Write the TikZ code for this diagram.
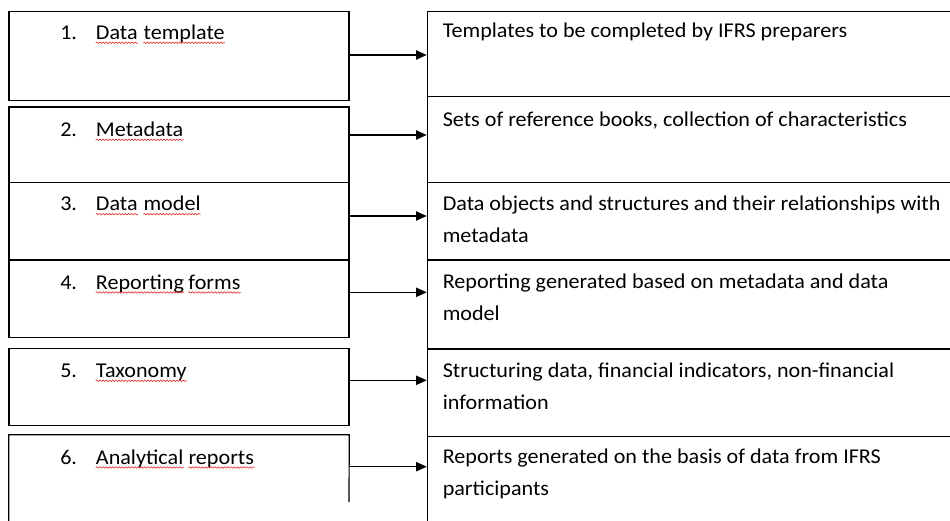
\documentclass[tikz,border=0pt]{standalone}
\usepackage{fontspec}
\setmainfont{Carlito}[FakeStretch=1.05]
\usetikzlibrary{arrows.meta,fit,decorations.pathmorphing}
\newcommand\sqline[1]{\draw[squig] ([yshift=-2.6pt]#1.base west) -- ([yshift=-2.6pt]#1.base east);}
\begin{document}
\begin{tikzpicture}[x=0.75pt,y=-0.75pt,
  frame/.style={draw, line width=0.9pt, inner sep=0pt},
  lab/.style={inner sep=0pt, anchor=base west, font=\fontsize{15.8}{24}\selectfont, text=black},
  desc/.style={lab, align=left},
  squig/.style={draw={rgb,255:red,225;green,45;blue,45}, line width=0.45pt, decorate,
    decoration={snake, segment length=2.4pt, amplitude=0.55pt}},
  arr/.style={line width=0.9pt, -{Triangle[length=8pt,width=7pt]}}]
\useasboundingbox (0,0) rectangle (950,521);
\clip (0,0) rectangle (950,521);
% left boxes
\node[frame, fit={(9,11.7)(349,100.7)}] (l1) {};
\node[frame, fit={(9,107)(349,182.7)}] (l2) {};
\node[frame, fit={(9,182.7)(349,260)}] (l3) {};
\node[frame, fit={(9,260)(349,337.3)}] (l4) {};
\node[frame, fit={(9,348.3)(349,425.3)}] (l5) {};
\node[inner sep=0pt, fit={(9,435)(349,530)}] (l6) {};
\coordinate (l6end) at (349,502);
\draw[line width=0.9pt] (l6.south west) -- (l6.north west) -- (l6.north east) -- (l6end);
% right boxes
\node[frame, fit={(427.3,11.7)(1000,96.3)}] (r1) {};
\node[frame, fit={(427.3,96.3)(1000,182.7)}] (r2) {};
\node[frame, fit={(427.3,182.7)(1000,260)}] (r3) {};
\node[frame, fit={(427.3,260)(1000,349)}] (r4) {};
\node[frame, fit={(427.3,349)(1000,436.3)}] (r5) {};
\node[frame, fit={(427.3,436.3)(1000,540)}] (r6) {};
% arrows
\coordinate (y1) at (0,55);
\coordinate (y2) at (0,135);
\coordinate (y3) at (0,216);
\coordinate (y4) at (0,292.3);
\coordinate (y5) at (0,380.3);
\coordinate (y6) at (0,466.7);
\draw[arr] (l1.east |- y1) -- (r1.west |- y1);
\draw[arr] (l2.east |- y2) -- (r2.west |- y2);
\draw[arr] (l3.east |- y3) -- (r3.west |- y3);
\draw[arr] (l4.east |- y4) -- (r4.west |- y4);
\draw[arr] (l5.east |- y5) -- (r5.west |- y5);
\draw[arr] (l6end |- y6) -- (r6.west |- y6);
% left labels
\node[lab] (n1) at (60,39.3) {1.};
\node[lab] (w1a) at (95.7,39.3) {Data};
\node[lab] (w1b) at ([xshift=4pt]w1a.base east) {template};
\node[lab] (n2) at (60,136.3) {2.};
\node[lab] (w2a) at (95.7,136.3) {Metadata};
\node[lab] (n3) at (60,210.7) {3.};
\node[lab] (w3a) at (95.7,210.7) {Data};
\node[lab] (w3b) at ([xshift=4pt]w3a.base east) {model};
\node[lab] (n4) at (60,289) {4.};
\node[lab] (w4a) at (95.7,289) {Reporting};
\node[lab] (w4b) at ([xshift=3pt]w4a.base east) {forms};
\node[lab] (n5) at (60,377.3) {5.};
\node[lab] (w5a) at (95.7,377.3) {Taxonomy};
\node[lab] (n6) at (60,464) {6.};
\node[lab] (w6a) at (95.7,464) {Analytical};
\node[lab] (w6b) at ([xshift=3.5pt]w6a.base east) {reports};
\sqline{w1a}\sqline{w1b}\sqline{w2a}\sqline{w3a}\sqline{w3b}
\sqline{w4a}\sqline{w4b}\sqline{w5a}\sqline{w6a}\sqline{w6b}
% descriptions (base anchor = baseline of last line)
\node[desc] (t1) at (442.5,37.3) {Templates to be completed by IFRS preparers};
\node[desc] (t2) at (442.5,126) {Sets of reference books, collection of characteristics};
\node[desc] (t3) at (442.5,242.7) {Data objects and structures and their relationships with\\metadata};
\node[desc] (t4) at (442.5,320.7) {Reporting generated based on metadata and data\\model};
\node[desc] (t5) at (442.5,409) {Structuring data, financial indicators, non-financial\\information};
\node[desc] (t6) at (442.5,495) {Reports generated on the basis of data from IFRS\\participants};
\end{tikzpicture}
\end{document}
